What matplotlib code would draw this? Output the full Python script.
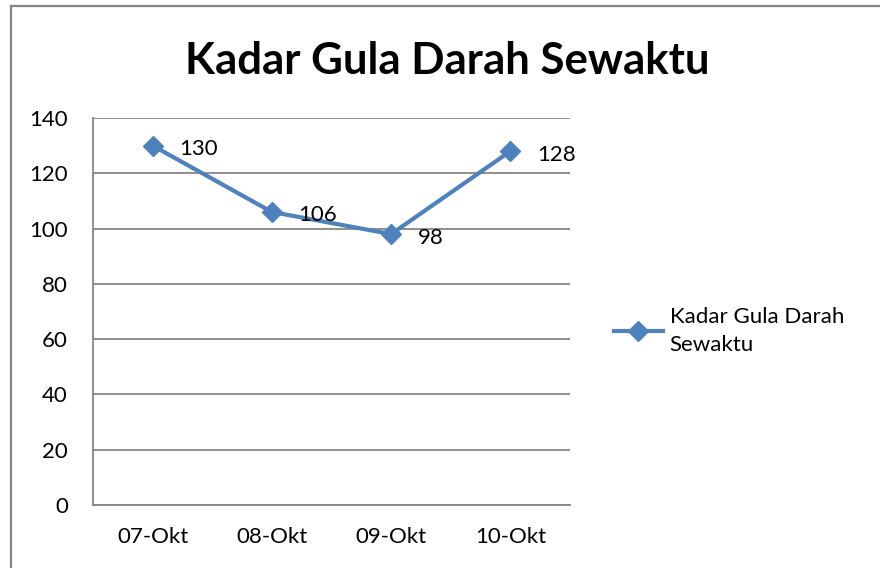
import matplotlib.pyplot as plt
from matplotlib.lines import Line2D

plt.rcParams['font.family'] = ['Lato', 'DejaVu Sans']

dates = ["07-Okt", "08-Okt", "09-Okt", "10-Okt"]
gula = [130, 106, 98, 128]
yticks = [0, 20, 40, 60, 80, 100, 120, 140]

BLUE = "#4F81BD"
GRID = "#868686"

W, H = 880, 568
fig = plt.figure(figsize=(W / 100, H / 100), dpi=100)
ax = fig.add_axes([93 / W, 1 - 505 / H, (570 - 93) / W, (505 - 118) / H])

x = list(range(len(dates)))
ax.plot(x, gula, "-", color=BLUE, lw=3, marker="D", ms=10.5,
        label="Kadar Gula Darah\nSewaktu", zorder=3)
for xi, v in zip(x, gula):
    ax.annotate(str(v), (xi, v), xytext=(19, -2.5), textcoords="offset points",
                ha="left", va="center", fontsize=16)

ax.set_xlim(-0.5, 3.5)
ax.set_ylim(0, 140)
ax.set_xticks(x)
ax.set_xticklabels(dates)
ax.set_yticks(yticks)
ax.tick_params(length=0, labelsize=16)
ax.tick_params(axis="y", pad=18)
ax.tick_params(axis="x", pad=16)
ax.grid(axis="y", color=GRID, lw=1.3)
ax.set_axisbelow(True)
for s in ["top", "right"]:
    ax.spines[s].set_visible(False)
for s in ["left", "bottom"]:
    ax.spines[s].set_color(GRID)
    ax.spines[s].set_linewidth(1.3)

fig.text(447 / W, 1 - 61 / H, "Kadar Gula Darah Sewaktu", ha="center",
         va="center", fontsize=31.5, fontweight="bold")

leg = fig.legend(loc="center left", bbox_to_anchor=(594 / W, 1 - 331 / H),
                 frameon=False, fontsize=16, handlelength=2.2,
                 handletextpad=0.3)
leg.get_texts()[0].set_linespacing(1.5)

# chart border (right and bottom edges fall outside the image)
fig.add_artist(Line2D([11 / W, 11 / W], [0, 1 - 6 / H], color=GRID, lw=1.6))
fig.add_artist(Line2D([11 / W, 1], [1 - 6 / H, 1 - 6 / H], color=GRID, lw=1.6))

fig.savefig("out.png", dpi=100)
